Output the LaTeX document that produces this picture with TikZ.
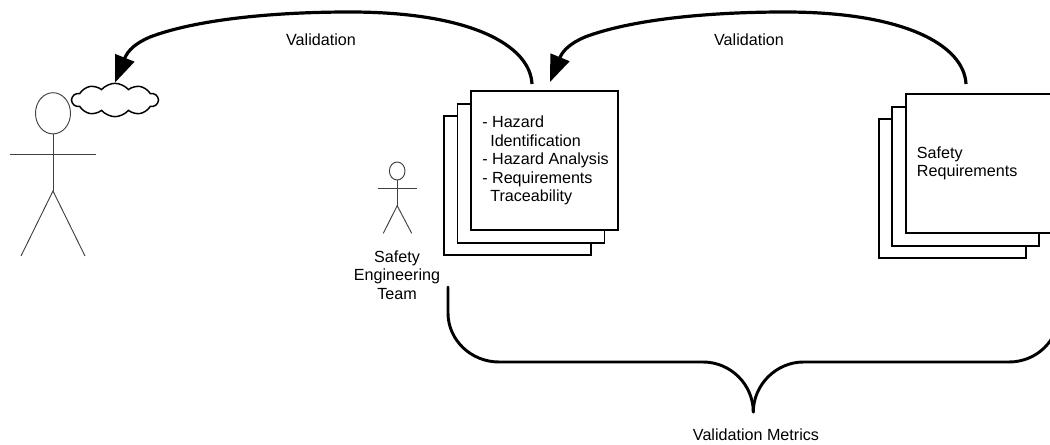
\documentclass[tikz,border=0pt]{standalone}
\usepackage{fontspec}
\setmainfont{Liberation Sans}
\usepackage{tikz}
\usetikzlibrary{arrows.meta,shapes.symbols}
\tikzset{
    docbox/.style={draw=black, fill=white, line width=1.3pt, outer sep=0pt, inner sep=0pt, minimum width=110.25pt, minimum height=104.25pt},
    stickline/.style={black!75, line width=0.7pt},
    flowline/.style={black, line width=2.4pt, -{Triangle[length=20pt, width=15pt]}},
    braceline/.style={black, line width=2.2pt, line cap=round},
    plaintext/.style={inner sep=0pt, font=\fontsize{12.1}{13.8}\selectfont, align=left}
}
\begin{document}
\begin{tikzpicture}[x=0.75pt, y=-0.75pt]
    \useasboundingbox (0,0) rectangle (1050,445);
    \clip (0,0) rectangle (1050,445);
    \draw [stickline] (53,113.3) ellipse (17.5 and 20.6);
    \draw [stickline] (53,134) -- (53,191);
    \draw [stickline] (10,154) -- (96,154);
    \draw [stickline] (21,256) -- (53,191) -- (85,256);
    \node [cloud, cloud puffs=10, cloud puff arc=100, aspect=2.6, draw=black, fill=white, line width=1.1pt, inner sep=0pt, minimum width=64.5pt, minimum height=25pt] (opinion) at (115,100) {};
    \draw [stickline] (397.2,171) ellipse (7.8 and 9);
    \draw [stickline] (397.2,180) -- (397.2,205.7);
    \draw [stickline] (378,188.7) -- (416.7,188.7);
    \draw [stickline] (383.3,233.3) -- (397.2,205.7) -- (411.7,233.3);
    \node [plaintext, align=center] (team) at (397,275) {Safety\\Engineering\\Team};
    \node [docbox] (hazard3) at (517.5,185.75) {};
    \node [docbox] (hazard2) at (531,173.25) {};
    \node [docbox] (hazard1) at (544.25,160.5) {};
    \node [plaintext, anchor=west] (hazardtext) at (482,160.5) {- Hazard\\\hspace{6pt}Identification\\- Hazard Analysis\\- Requirements\\\hspace{6pt}Traceability};
    \node [docbox] (safety3) at (952.5,188.7) {};
    \node [docbox] (safety2) at (965.8,176.2) {};
    \node [docbox] (safety1) at (979.2,163.5) {};
    \node [plaintext, anchor=west] (safetytext) at (916.7,163.5) {Safety\\Requirements};
    \coordinate (hazardout) at (532,84);
    \coordinate (hazardin) at (550,82);
    \coordinate (safetyout) at (966,84);
    \draw [flowline] (hazardout) .. controls (530,45) and (470,12) .. (350,12) .. controls (270,12) and (195,20) .. (150,37) .. controls (136,43) and (128,50) .. (opinion.north);
    \draw [flowline] (safetyout) .. controls (964,45) and (904,12) .. (785,12) .. controls (705,12) and (630,20) .. (585,37) .. controls (571,43) and (563,50) .. (hazardin);
    \node [plaintext] (firstlabel) at (321,40) {Validation};
    \node [plaintext] (secondlabel) at (749,40) {Validation};
    \coordinate (bracestart) at (448,287);
    \coordinate (braceend) at (1059,287);
    \coordinate (bracetip) at (753.3,412);
    \draw [braceline] (bracestart) -- (448,313) .. controls (448,340) and (471,362) .. (499,362) -- (703,362) .. controls (731,362) and (753.3,385) .. (bracetip);
    \draw [braceline] (bracetip) .. controls (753.3,385) and (776,362) .. (803.5,362) -- (1009,362) .. controls (1037,362) and (1059,340) .. (1059,313) -- (braceend);
    \node [plaintext] (metricslabel) at (756,435) {Validation Metrics};
\end{tikzpicture}
\end{document}
